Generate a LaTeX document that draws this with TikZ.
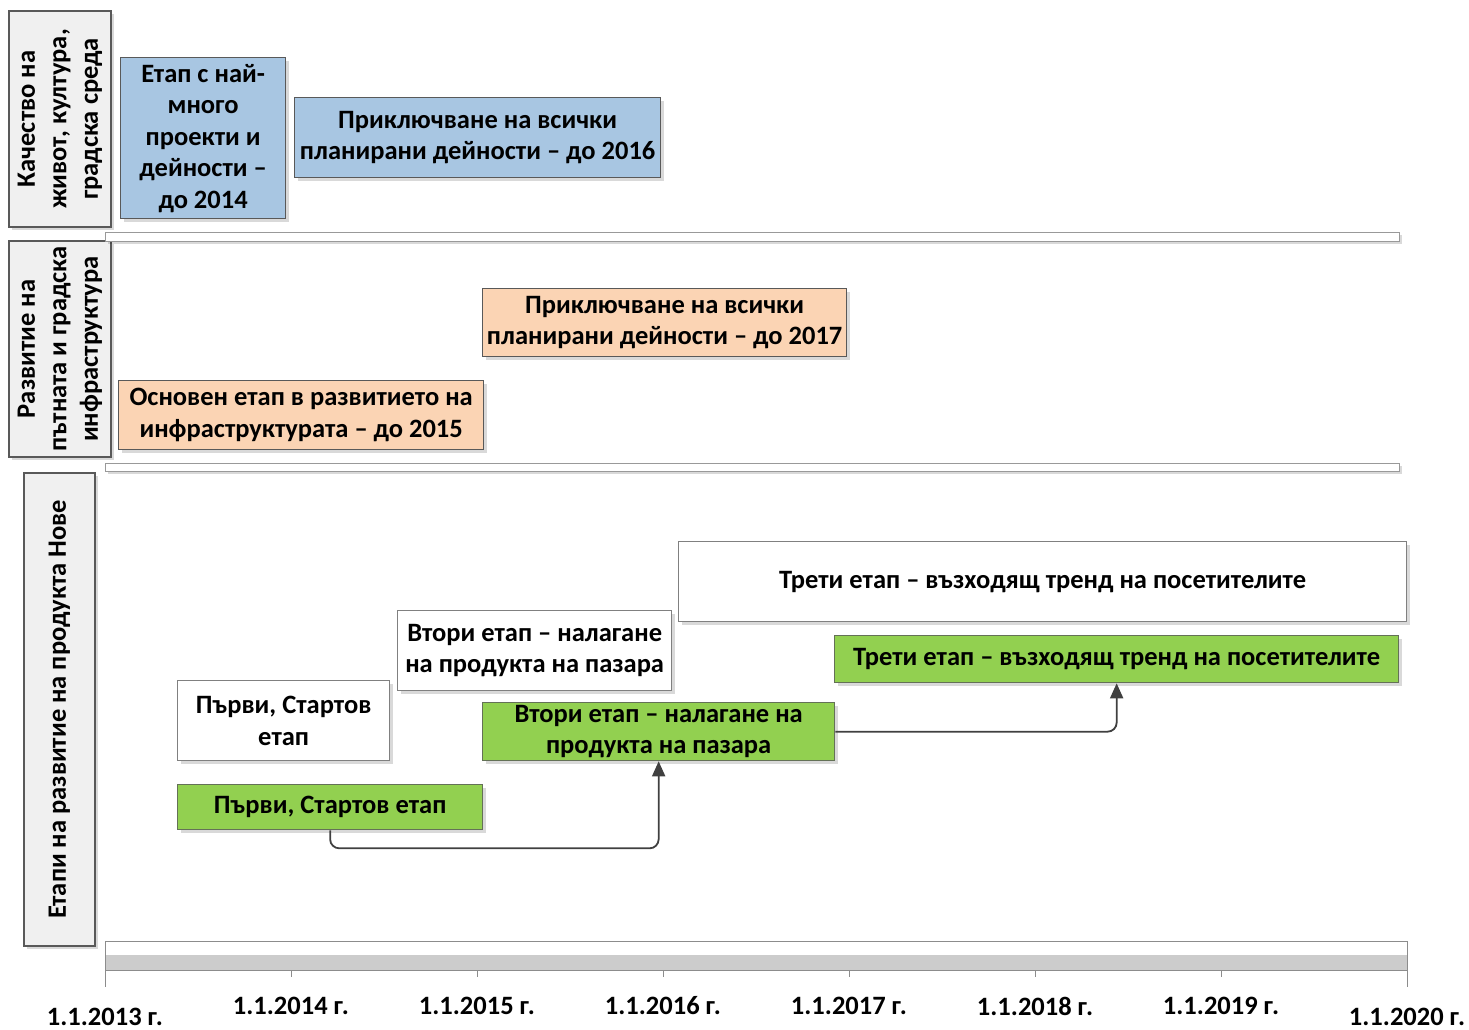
\documentclass[tikz,border=0pt]{standalone}
\usepackage{fontspec}
\setmainfont{Carlito}
\usepackage{tikz}
\usetikzlibrary{arrows.meta,positioning,shadows}
\definecolor{rowgray}{HTML}{F0F0F0}
\definecolor{edgegray}{HTML}{595959}
\definecolor{stageblue}{HTML}{A8C6E2}
\definecolor{stageorange}{HTML}{FBD4B4}
\definecolor{stagegreen}{HTML}{92D050}
\definecolor{linkgray}{HTML}{404040}

\begin{document}
\begin{tikzpicture}[
  x=1pt, y=-1pt,
  font=\fontsize{26.5}{31.5}\selectfont\bfseries,
  shade/.style={drop shadow={shadow xshift=3pt,shadow yshift=-3pt,fill=black,opacity=0.15}},
  box/.style={rectangle,draw=edgegray,line width=1.3pt,align=center,
              inner sep=1pt,anchor=north west,shade},
  rowlabel/.style={box,fill=rowgray,rotate=90,anchor=center},
  bluebox/.style={box,fill=stageblue},
  orangebox/.style={box,fill=stageorange},
  whitebox/.style={box,fill=white,draw=gray},
  greenbox/.style={box,fill=stagegreen,draw=edgegray!80!stagegreen},
  arr/.style={-{Triangle[length=15pt,width=13pt]},line width=1.8pt,
              color=linkgray,rounded corners=9pt},
  year/.style={inner sep=0pt}
]
  \useasboundingbox (0,0) rectangle (1469,1030);

  % row labels
  \node[rowlabel,minimum width=216pt,minimum height=102pt] (life) at (60,119)
    {Качество на\\ живот, култура,\\ градска среда};
  \node[rowlabel,minimum width=216pt,minimum height=102pt] (infra) at (60,349)
    {Развитие на\\ пътната и градска\\ инфраструктура};
  \node[rowlabel,minimum width=473pt,minimum height=71pt] (prod) at (59.5,709.5)
    {Етапи на развитие на продукта Нове};

  % row separators
  \draw[draw=gray!80,fill=white,line width=1pt,shade] (105,232) rectangle (1399,241);
  \draw[draw=gray!80,fill=white,line width=1pt,shade] (105,463) rectangle (1399,471);

  % first row
  \node[bluebox,minimum width=165pt,minimum height=161pt] (peak) at (120,57)
    {Етап с най-\\ много\\ проекти и\\ дейности –\\ до 2014};
  \node[bluebox,minimum width=366pt,minimum height=80pt] (end16) at (294,97)
    {Приключване на всички\\ планирани дейности – до 2016};

  % second row
  \node[orangebox,minimum width=364pt,minimum height=68pt] (end17) at (482,288)
    {Приключване на всички\\ планирани дейности – до 2017};
  \node[orangebox,minimum width=365pt,minimum height=69pt] (base15) at (118,380)
    {Основен етап в развитието на\\ инфраструктурата – до 2015};

  % third row
  \node[whitebox,minimum width=728pt,minimum height=80pt] (w3) at (678,541)
    {Трети етап – възходящ тренд на посетителите};
  \node[whitebox,minimum width=274pt,minimum height=80pt] (w2) at (397,610)
    {Втори етап – налагане\\ на продукта на пазара};
  \node[whitebox,minimum width=212pt,minimum height=80pt] (w1) at (177,680)
    {Първи, Стартов\\ етап};
  \node[greenbox,minimum width=564pt,minimum height=47pt] (g3) at (834,635)
    {Трети етап – възходящ тренд на посетителите};
  \node[greenbox,minimum width=352pt,minimum height=58pt] (g2) at (482,702)
    {Втори етап – налагане на\\ продукта на пазара};
  \node[greenbox,minimum width=305pt,minimum height=45pt] (g1) at (177,784)
    {Първи, Стартов етап};

  \draw[arr] (g1.south) -- ++(0,18) -| (g2.south);
  \draw[arr] (g2.east) -| (g3.south);

  % time axis
  \draw[draw=gray!90,fill=white,line width=1pt] (105,941) rectangle (1407,970);
  \fill[gray!40] (105,955) rectangle (1407,970);
  \draw[gray!90,line width=1pt] (105,970) -- (1407,970);
  \draw[gray!90,line width=1pt] (105,941) -- (105,987);
  \draw[gray!90,line width=1pt] (1407,941) -- (1407,987);
  \foreach \x in {291,477,663,849,1035,1221}
    \draw[gray!90,line width=1pt] (\x,970) -- (\x,977);

  \node[year] (y13) at (105,1017) {1.1.2013 г.};
  \foreach \x/\yr in {291/2014,477/2015,663/2016,849/2017,1035/2018,1221/2019}
    \node[year] (y\yr) at (\x,1006) {1.1.\yr{} г.};
  \node[year] (y20) at (1407,1017) {1.1.2020 г.};
\end{tikzpicture}
\end{document}
